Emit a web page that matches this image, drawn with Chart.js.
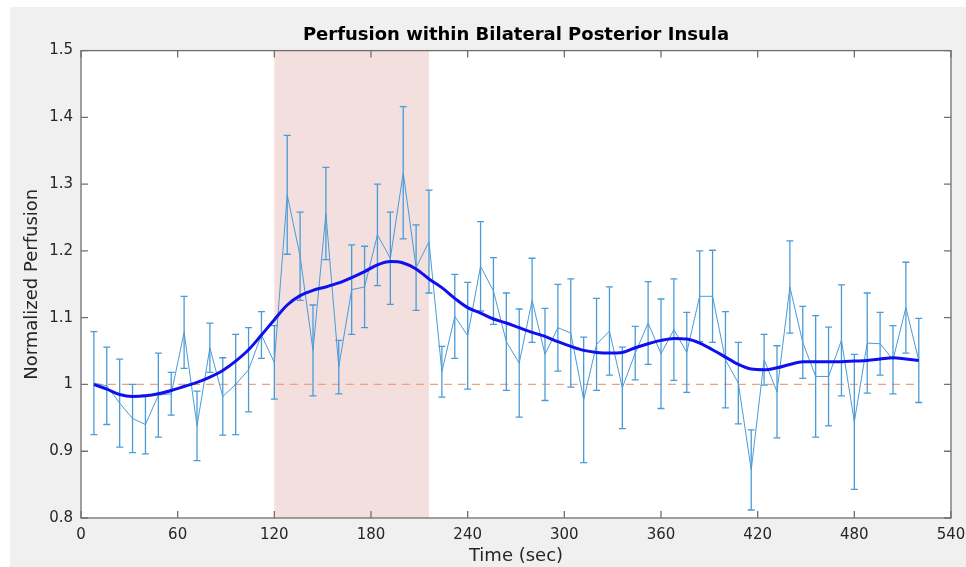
<!DOCTYPE html>
<html>
<head>
<meta charset="utf-8">
<title>Perfusion within Bilateral Posterior Insula</title>
<script src="https://cdn.jsdelivr.net/npm/chart.js@4.4.1/dist/chart.umd.min.js"></script>
<style>
  html, body { margin: 0; padding: 0; background: #fff; }
  canvas { display: block; }
</style>
</head>
<body>
<canvas id="perfusion" width="966" height="567"></canvas>
<script>
// tiempos (sec)
const times = [8, 16, 24, 32, 40, 48, 56, 64, 72, 80, 88, 96, 104, 112, 120,
  128, 136, 144, 152, 160, 168, 176, 184, 192, 200, 208, 216,
  224, 232, 240, 248, 256, 264, 272, 280, 288, 296, 304, 312, 320, 328,
  336, 344, 352, 360, 368, 376, 384, 392, 400, 408, 416, 424, 432,
  440, 448, 456, 464, 472, 480, 488, 496, 504, 512, 520];

// perfusion media
const meanPerfusion = [1.002, 0.998, 0.972, 0.949, 0.940, 0.984, 0.986, 1.078, 0.938, 1.055, 0.982, 1.000, 1.022, 1.074, 1.033,
  1.284, 1.192, 1.051, 1.256, 1.026, 1.142, 1.146, 1.224, 1.189, 1.317, 1.175, 1.214,
  1.019, 1.102, 1.073, 1.177, 1.140, 1.064, 1.032, 1.126, 1.045, 1.085, 1.077, 0.977, 1.060, 1.080,
  0.995, 1.047, 1.092, 1.046, 1.082, 1.048, 1.132, 1.132, 1.037, 1.002, 0.872, 1.037, 0.989,
  1.146, 1.063, 1.012, 1.012, 1.066, 0.944, 1.062, 1.061, 1.037, 1.115, 1.036];

// error (+/-)
const errPerfusion = [0.077, 0.058, 0.066, 0.051, 0.044, 0.063, 0.032, 0.054, 0.052, 0.037, 0.058, 0.075, 0.063, 0.035, 0.055,
  0.089, 0.066, 0.068, 0.069, 0.040, 0.067, 0.061, 0.076, 0.069, 0.099, 0.064, 0.077,
  0.038, 0.063, 0.080, 0.067, 0.050, 0.073, 0.081, 0.063, 0.069, 0.065, 0.081, 0.094, 0.069, 0.066,
  0.061, 0.040, 0.062, 0.082, 0.076, 0.060, 0.068, 0.069, 0.072, 0.061, 0.060, 0.038, 0.069,
  0.069, 0.054, 0.091, 0.074, 0.083, 0.101, 0.075, 0.047, 0.051, 0.068, 0.063];

// curva suavizada
const smoothPerfusion = [1.000, 0.993, 0.985, 0.982, 0.983, 0.986, 0.991, 0.997, 1.003, 1.011, 1.021, 1.035, 1.052, 1.074, 1.097,
  1.119, 1.133, 1.141, 1.146, 1.152, 1.160, 1.169, 1.179, 1.184, 1.182, 1.173, 1.158,
  1.145, 1.129, 1.115, 1.107, 1.098, 1.092, 1.085, 1.078, 1.072, 1.064, 1.057, 1.051, 1.048, 1.047,
  1.048, 1.055, 1.061, 1.066, 1.069, 1.068, 1.062, 1.052, 1.041, 1.030, 1.023, 1.022, 1.025,
  1.030, 1.034, 1.034, 1.034, 1.034, 1.035, 1.036, 1.038, 1.040, 1.038, 1.036];

const baselineTimes = [8, 520];
const baselineValue = [1, 1];
const stimulusWindow = [120, 216];

const xTicks = [0, 60, 120, 180, 240, 300, 360, 420, 480, 540];
const yTicks = [0.8, 0.9, 1, 1.1, 1.2, 1.3, 1.4, 1.5];

const textColor = '#262626';
const axisColor = '#707070';
const errColor = '#4a9bd8';

// fondo, ventana de estimulo y caja de ejes
const figurePlugin = {
  id: 'figure',
  beforeDraw(chart) {
    const { ctx, chartArea: a, scales: { x } } = chart;
    ctx.save();
    ctx.fillStyle = '#ffffff';
    ctx.fillRect(0, 0, chart.width, chart.height);
    ctx.fillStyle = '#f0f0f0';
    ctx.fillRect(10, 7, chart.width - 10, chart.height - 7);
    ctx.fillStyle = '#ffffff';
    ctx.fillRect(a.left, a.top, a.right - a.left, a.bottom - a.top);
    const x0 = x.getPixelForValue(stimulusWindow[0]);
    const x1 = x.getPixelForValue(stimulusWindow[1]);
    ctx.fillStyle = '#f3dfde';
    ctx.fillRect(x0, a.top, x1 - x0, a.bottom - a.top);
    ctx.restore();
  },
  afterDatasetDraw(chart, args) {
    if (args.index !== 1) return;
    const { ctx, scales: { x, y } } = chart;
    ctx.save();
    ctx.strokeStyle = errColor;
    ctx.lineWidth = 1.3;
    ctx.beginPath();
    times.forEach((t, i) => {
      const px = x.getPixelForValue(t);
      const top = y.getPixelForValue(meanPerfusion[i] + errPerfusion[i]);
      const bot = y.getPixelForValue(meanPerfusion[i] - errPerfusion[i]);
      ctx.moveTo(px, top); ctx.lineTo(px, bot);
      ctx.moveTo(px - 3.5, top); ctx.lineTo(px + 3.5, top);
      ctx.moveTo(px - 3.5, bot); ctx.lineTo(px + 3.5, bot);
    });
    ctx.stroke();
    ctx.restore();
  },
  afterDraw(chart) {
    const { ctx, chartArea: a, scales: { x, y } } = chart;
    const tl = 7;
    ctx.save();
    ctx.strokeStyle = axisColor;
    ctx.lineWidth = 1.3;
    ctx.strokeRect(a.left, a.top, a.right - a.left, a.bottom - a.top);
    ctx.beginPath();
    xTicks.forEach(v => {
      const px = x.getPixelForValue(v);
      ctx.moveTo(px, a.bottom); ctx.lineTo(px, a.bottom - tl);
      ctx.moveTo(px, a.top); ctx.lineTo(px, a.top + tl);
    });
    yTicks.forEach(v => {
      const py = y.getPixelForValue(v);
      ctx.moveTo(a.left, py); ctx.lineTo(a.left + tl, py);
      ctx.moveTo(a.right, py); ctx.lineTo(a.right - tl, py);
    });
    ctx.stroke();
    ctx.restore();
  }
};

const chartConfig = {
  type: 'line',
  data: {
    datasets: [
      {
        label: 'Smoothed',
        data: times.map((t, i) => ({ x: t, y: smoothPerfusion[i] })),
        borderColor: '#1010ee',
        borderWidth: 3,
        pointRadius: 0,
        cubicInterpolationMode: 'monotone',
        order: 0
      },
      {
        label: 'Perfusion',
        data: times.map((t, i) => ({ x: t, y: meanPerfusion[i] })),
        borderColor: errColor,
        borderWidth: 1,
        pointRadius: 0,
        tension: 0,
        order: 1
      },
      {
        label: 'Baseline',
        data: baselineTimes.map((t, i) => ({ x: t, y: baselineValue[i] })),
        borderColor: '#f0a080',
        borderWidth: 1.3,
        borderDash: [8, 6],
        pointRadius: 0,
        order: 2
      }
    ]
  },
  options: {
    responsive: false,
    animation: false,
    devicePixelRatio: 1,
    layout: { padding: { left: 0, right: 15, top: 0, bottom: 0 } },
    plugins: {
      legend: { display: false },
      tooltip: { enabled: false },
      title: {
        display: true,
        fullSize: false,
        text: 'Perfusion within Bilateral Posterior Insula',
        color: '#000000',
        font: { family: 'DejaVu Sans', size: 18, weight: 'bold' },
        padding: { top: 25, bottom: 4 }
      }
    },
    scales: {
      x: {
        type: 'linear',
        min: 0,
        max: 540,
        afterBuildTicks: s => { s.ticks = xTicks.map(v => ({ value: v })); },
        afterFit: s => { s.height = 49; s.paddingLeft = 0; s.paddingRight = 0; },
        grid: { display: false, drawTicks: false },
        border: { display: false },
        ticks: {
          color: textColor,
          padding: 8,
          maxRotation: 0,
          font: { family: 'DejaVu Sans', size: 15 }
        },
        title: {
          display: true,
          text: 'Time (sec)',
          color: textColor,
          font: { family: 'DejaVu Sans', size: 18 },
          padding: { top: 0, bottom: 0 }
        }
      },
      y: {
        min: 0.8,
        max: 1.5,
        afterBuildTicks: s => { s.ticks = yTicks.map(v => ({ value: v })); },
        afterFit: s => { s.width = 81; },
        grid: { display: false, drawTicks: false },
        border: { display: false },
        ticks: {
          color: textColor,
          padding: 8,
          font: { family: 'DejaVu Sans', size: 15 },
          callback: v => String(+v.toFixed(1))
        },
        title: {
          display: true,
          text: 'Normalized Perfusion',
          color: textColor,
          font: { family: 'DejaVu Sans', size: 18 },
          padding: { top: 22, bottom: 0 }
        }
      }
    }
  },
  plugins: [figurePlugin]
};

const chart = new Chart(document.querySelector('#perfusion'), chartConfig);
</script>
</body>
</html>
